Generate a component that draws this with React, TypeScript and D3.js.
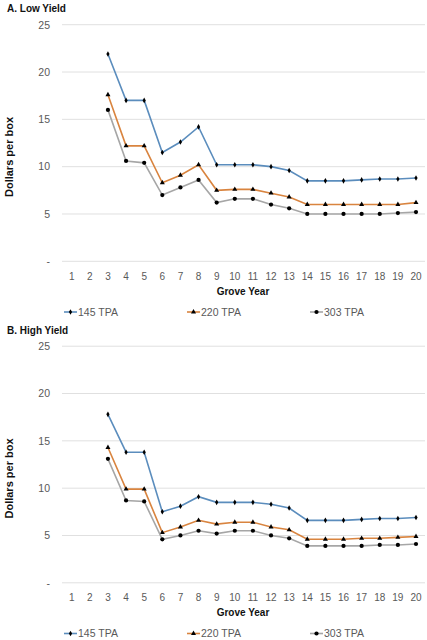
import React from "react";
import * as d3 from "d3";

// grove years shown on the x axis
const groveYears = ["1", "2", "3", "4", "5", "6", "7", "8", "9", "10", "11", "12", "13", "14", "15", "16", "17", "18", "19", "20"];
// values start at year 3
const valueYears = [3, 4, 5, 6, 7, 8, 9, 10, 11, 12, 13, 14, 15, 16, 17, 18, 19, 20];

const yTicks = [0, 5, 10, 15, 20, 25];
const yTickLabels = ["-", "5", "10", "15", "20", "25"];

const seriesNames = ["145 TPA", "220 TPA", "303 TPA"];

const lowTpa145 = [21.9, 17.0, 17.0, 11.5, 12.6, 14.2, 10.2, 10.2, 10.2, 10.0, 9.6, 8.5, 8.5, 8.5, 8.6, 8.7, 8.7, 8.8];
const lowTpa220 = [17.6, 12.2, 12.2, 8.3, 9.1, 10.2, 7.5, 7.6, 7.6, 7.2, 6.8, 6.0, 6.0, 6.0, 6.0, 6.0, 6.0, 6.2];
const lowTpa303 = [16.0, 10.6, 10.4, 7.0, 7.8, 8.6, 6.2, 6.6, 6.6, 6.0, 5.6, 5.0, 5.0, 5.0, 5.0, 5.0, 5.1, 5.2];

const highTpa145 = [17.8, 13.8, 13.8, 7.5, 8.1, 9.1, 8.5, 8.5, 8.5, 8.3, 7.9, 6.6, 6.6, 6.6, 6.7, 6.8, 6.8, 6.9];
const highTpa220 = [14.3, 9.9, 9.9, 5.3, 5.9, 6.6, 6.2, 6.4, 6.4, 5.9, 5.6, 4.6, 4.6, 4.6, 4.7, 4.7, 4.8, 4.9];
const highTpa303 = [13.1, 8.7, 8.6, 4.6, 5.0, 5.5, 5.2, 5.5, 5.5, 5.0, 4.7, 3.9, 3.9, 3.9, 3.9, 4.0, 4.0, 4.1];

const colors = ["#5b8dbd", "#d9843f", "#a6a6a6"];
const markers = [d3.symbolDiamond, d3.symbolTriangle, d3.symbolCircle];
const markerSizes = [9, 11, 14];

const FONT = "'Liberation Sans', Arial, sans-serif";
const W = 427;
const H = 640;

const Panel: React.FC<{ title: string; series: number[][]; top: number }> = ({ title, series, top }) => {
    const x = d3.scaleLinear().domain([1, 20]).range([71.7, 416]);
    const y = d3.scaleLinear().domain([0, 25]).range([261.3, 24.7]);

    const line = d3
        .line<number>()
        .x((_, i) => x(valueYears[i]))
        .y((d) => y(d));

    return (
        <g transform={`translate(0,${top})`}>
            <text x={7} y={12} fontSize={10} fontWeight="bold" fill="#111">
                {title}
            </text>

            {/* gridlines */}
            {yTicks.map((t) => (
                <line key={t} x1={62} x2={425} y1={y(t)} y2={y(t)} stroke="#e0e0e0" strokeWidth={1} />
            ))}

            {/* y tick labels */}
            {yTicks.map((t, i) => (
                <text key={t} x={50} y={y(t) + 3.8} textAnchor="end" fontSize={10.5} fill="#595959">
                    {yTickLabels[i]}
                </text>
            ))}

            {/* x tick labels */}
            {groveYears.map((g) => (
                <text key={g} x={x(+g)} y={279.5} textAnchor="middle" fontSize={10} fill="#595959">
                    {g}
                </text>
            ))}

            <text transform="translate(12.5,157) rotate(-90)" textAnchor="middle" fontSize={11} fontWeight="bold" fill="#111">
                Dollars per box
            </text>
            <text x={243} y={294.5} textAnchor="middle" fontSize={10} fontWeight="bold" fill="#111">
                Grove Year
            </text>

            {series.map((s, si) => (
                <g key={si}>
                    <path d={line(s) || ""} fill="none" stroke={colors[si]} strokeWidth={1.6} />
                    {s.map((v, i) => (
                        <path
                            key={i}
                            transform={`translate(${x(valueYears[i])},${y(v)})`}
                            d={d3.symbol().type(markers[si]).size(markerSizes[si])() || ""}
                            fill="#000"
                        />
                    ))}
                </g>
            ))}

            {/* legend */}
            {seriesNames.map((name, si) => {
                const lx = [64, 187, 310][si];
                return (
                    <g key={name} transform={`translate(${lx},312)`}>
                        <line x1={0} x2={13} y1={0} y2={0} stroke={colors[si]} strokeWidth={1.6} />
                        <path
                            transform="translate(6.5,0)"
                            d={d3.symbol().type(markers[si]).size(markerSizes[si])() || ""}
                            fill="#000"
                        />
                        <text x={14} y={3.8} fontSize={10.5} fill="#595959">
                            {name}
                        </text>
                    </g>
                );
            })}
        </g>
    );
};

export default function App() {
    return (
        <div style={{ position: "absolute", left: 0, top: 0 }}>
            <svg width={W} height={H} style={{ display: "block", fontFamily: FONT, background: "#fff" }}>
                <Panel title="A. Low Yield" series={[lowTpa145, lowTpa220, lowTpa303]} top={0} />
                <Panel title="B. High Yield" series={[highTpa145, highTpa220, highTpa303]} top={321.5} />
            </svg>
        </div>
    );
}
